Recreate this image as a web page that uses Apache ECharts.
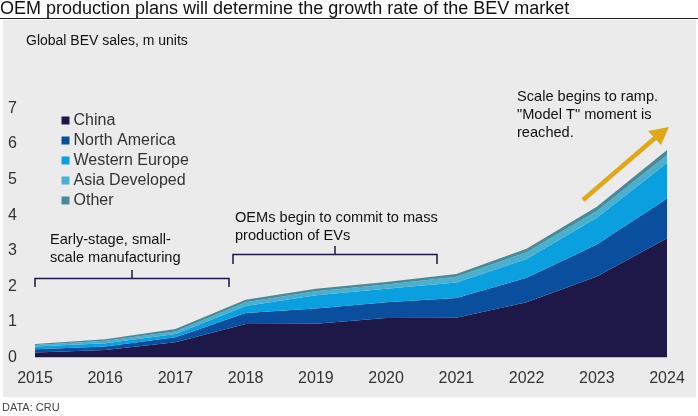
<!DOCTYPE html>
<html><head><meta charset="utf-8">
<script src="https://cdn.jsdelivr.net/npm/echarts@6/dist/echarts.min.js"></script>
<style>html,body{margin:0;padding:0;background:#fff}#c{width:698px;height:416px}</style>
</head><body><div id="c"></div>
<script>
const years = ['2015','2016','2017','2018','2019','2020','2021','2022','2023','2024'];
const china = [0.14,0.21,0.43,0.94,0.95,1.11,1.12,1.55,2.28,3.35];
const northAmerica = [0.09,0.10,0.14,0.31,0.43,0.44,0.55,0.69,0.90,1.12];
const westernEurope = [0.08,0.09,0.09,0.20,0.37,0.38,0.44,0.53,0.75,1.00];
const asiaDeveloped = [0.04,0.07,0.07,0.10,0.11,0.12,0.16,0.19,0.19,0.22];
const other = [0.03,0.04,0.07,0.07,0.07,0.07,0.08,0.10,0.12,0.14];
const yTicks = [0,1,2,3,4,5,6,7];

const names = ['China','North America','Western Europe','Asia Developed','Other'];
const colors = ['#1e1848','#0a4f9e','#0aa0e0','#4ab0d0','#4a8a98'];
const data = [china, northAmerica, westernEurope, asiaDeveloped, other];
const F = 'Liberation Sans, Arial, sans-serif';
const navy = '#1e1848';

const chart = echarts.init(document.getElementById('c'));
const graphic = [
  {type:'rect', shape:{x:3,y:20,width:693,height:377}, style:{fill:'#ebebeb'}, z:-10, silent:true},
  {type:'line', shape:{x1:0,y1:18.5,x2:698,y2:18.5}, style:{stroke:'#222',lineWidth:1}},
  {type:'text', x:0, y:0, style:{text:'OEM production plans will determine the growth rate of the BEV market', font:'18px '+F, fill:'#111'}},
  {type:'text', x:26, y:34, style:{text:'Global BEV sales, m units', font:'14px '+F, fill:'#111'}},
  {type:'text', x:2, y:402, style:{text:'DATA: CRU', font:'11px '+F, fill:'#444'}},
  {type:'text', x:50, y:231, style:{text:'Early-stage, small-\nscale manufacturing', font:'14.6px '+F, fill:'#111', lineHeight:18}},
  {type:'text', x:235, y:209, style:{text:'OEMs begin to commit to mass\nproduction of EVs', font:'14.6px '+F, fill:'#111', lineHeight:18}},
  {type:'text', x:517, y:88, style:{text:'Scale begins to ramp.\n"Model T" moment is\nreached.', font:'14.6px '+F, fill:'#111', lineHeight:18}},
  {type:'polyline', shape:{points:[[35,287],[35,278.5],[229,278.5],[229,287]]}, style:{stroke:navy,lineWidth:1.5,fill:null}},
  {type:'line', shape:{x1:132,y1:278.5,x2:132,y2:270}, style:{stroke:navy,lineWidth:1.5}},
  {type:'polyline', shape:{points:[[233,264],[233,254.5],[437,254.5],[437,264]]}, style:{stroke:navy,lineWidth:1.5,fill:null}},
  {type:'line', shape:{x1:335,y1:254.5,x2:335,y2:246}, style:{stroke:navy,lineWidth:1.5}},
  {type:'line', shape:{x1:583,y1:200,x2:655,y2:138}, style:{stroke:'#e0a818',lineWidth:4.5}},
  {type:'polygon', shape:{points:[[669,127],[648,131],[661,145]]}, style:{fill:'#e0a818'}}
];
names.forEach((n,i)=>{
  const y = 120.5 + i*20;
  graphic.push({type:'rect', shape:{x:61.5,y:y-4,width:8,height:8}, style:{fill:colors[i]}});
  graphic.push({type:'text', x:73.5, y:y, style:{text:n, font:'16px '+F, fill:'#333', verticalAlign:'middle'}});
});

chart.setOption({
  backgroundColor:'#fff',
  animation:false,
  grid:{left:35, right:31, top:108.5, bottom:58.5},
  xAxis:{type:'category', data:years, boundaryGap:false,
    axisLine:{show:false}, axisTick:{show:false},
    axisLabel:{color:'#333', fontSize:16, fontFamily:F, margin:13}},
  yAxis:{type:'value', min:yTicks[0], max:yTicks[yTicks.length-1], interval:1,
    splitLine:{show:false}, axisLine:{show:false}, axisTick:{show:false},
    axisLabel:{color:'#333', fontSize:16, fontFamily:F, margin:18}},
  series: names.map((n,i)=>({name:n, type:'line', stack:'t', data:data[i], symbol:'none',
    lineStyle:{width:0}, areaStyle:{color:colors[i], opacity:1}, itemStyle:{color:colors[i]}})),
  graphic: graphic
});
</script></body></html>
